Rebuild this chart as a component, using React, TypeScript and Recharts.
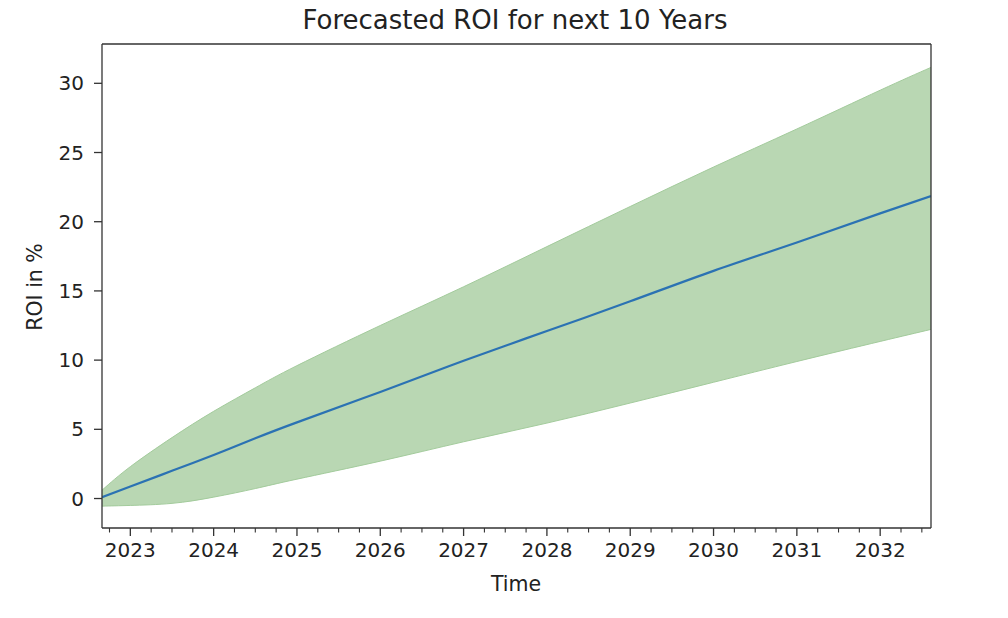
import React from 'react';
import { ComposedChart, Area, Line, XAxis, YAxis, ReferenceLine } from 'recharts';

const years = [2022.66, 2023, 2023.5, 2024, 2024.5, 2025, 2026, 2027, 2028, 2029, 2030, 2031, 2032, 2032.61];
const meanRoi = [0.1, 0.87, 2.0, 3.15, 4.35, 5.5, 7.7, 9.95, 12.1, 14.25, 16.45, 18.5, 20.6, 21.86];
const lowerRoi = [-0.55, -0.5, -0.35, 0.1, 0.72, 1.4, 2.7, 4.1, 5.45, 6.9, 8.4, 9.9, 11.35, 12.22];
const upperRoi = [0.6, 2.3, 4.4, 6.3, 8.0, 9.6, 12.5, 15.3, 18.2, 21.1, 23.95, 26.7, 29.5, 31.15];

const yearTicks = [2023, 2024, 2025, 2026, 2027, 2028, 2029, 2030, 2031, 2032];
const yTicks = [0, 5, 10, 15, 20, 25, 30];
const quarterTicks: number[] = [];
for (let y = 2022; y <= 2032; y++) {
  for (const q of [0, 0.25, 0.5, 0.75]) {
    const v = y + q;
    if (v >= 2022.66 && v <= 2032.61) quarterTicks.push(v);
  }
}

const xDomain = [2022.66, 2032.61];
const yDomain = [-2.13, 32.84];

const data = years.map((t, i) => ({
  t,
  mean: meanRoi[i],
  band: [lowerRoi[i], upperRoi[i]],
}));

const FONT = 'DejaVu Sans, sans-serif';
const AX = '#333';
const TXT = '#222';

function XTick(props: any) {
  const { x, y, payload } = props;
  const v = payload.value as number;
  const isMajor = yearTicks.some((yt) => Math.abs(yt - v) < 1e-6);
  return (
    <g>
      <line x1={x} x2={x} y1={y} y2={y + (isMajor ? 8 : 4.5)} stroke={AX} strokeWidth={isMajor ? 1.3 : 1.1} />
      {isMajor && (
        <text x={x} y={y + 15} dy="0.71em" textAnchor="middle" fill={TXT} fontSize={20} fontFamily={FONT}>
          {String(Math.round(v))}
        </text>
      )}
    </g>
  );
}

export default function App() {
  return (
    <div style={{ position: 'absolute', left: 0, top: 0, width: 1008, height: 618, background: '#fff' }}>
      <ComposedChart width={1008} height={618} data={data} margin={{ top: 44, right: 77, bottom: 0, left: 0 }}>
        <XAxis
          dataKey="t"
          type="number"
          domain={xDomain}
          allowDataOverflow
          ticks={quarterTicks}
          interval={0}
          height={90}
          axisLine={{ stroke: AX, strokeWidth: 1.3 }}
          tickSize={0}
          tickMargin={0}
          tickLine={false}
          tick={<XTick />}
        />
        <YAxis
          type="number"
          domain={yDomain}
          allowDataOverflow
          ticks={yTicks}
          interval={0}
          width={102}
          axisLine={{ stroke: AX, strokeWidth: 1.3 }}
          tickSize={8}
          tickMargin={10}
          tickLine={{ stroke: AX, strokeWidth: 1.3 }}
          tick={{ fill: TXT, fontSize: 20, fontFamily: FONT }}
        />
        <Area
          dataKey="band"
          type="natural"
          fill="#b9d7b3"
          fillOpacity={1}
          stroke="#a3cb9c"
          strokeWidth={1}
          isAnimationActive={false}
          dot={false}
          activeDot={false}
        />
        <Line
          dataKey="mean"
          type="natural"
          stroke="#2b72b3"
          strokeWidth={2.2}
          dot={false}
          activeDot={false}
          isAnimationActive={false}
        />
        <ReferenceLine y={yDomain[1]} stroke={AX} strokeWidth={1.3} />
        <ReferenceLine x={xDomain[1]} stroke={AX} strokeWidth={1.3} />
      </ComposedChart>
      <svg width={1008} height={618} style={{ position: 'absolute', left: 0, top: 0, pointerEvents: 'none' }}>
        <text x={515} y={29} textAnchor="middle" fontFamily={FONT} fontSize={26} fill={TXT}>
          Forecasted ROI for next 10 Years
        </text>
        <text x={516} y={591} textAnchor="middle" fontFamily={FONT} fontSize={20.5} fill={TXT}>
          Time
        </text>
        <text x={42} y={287} textAnchor="middle" fontFamily={FONT} fontSize={20.5} fill={TXT} transform="rotate(-90, 42, 287)">
          ROI in %
        </text>
      </svg>
    </div>
  );
}
